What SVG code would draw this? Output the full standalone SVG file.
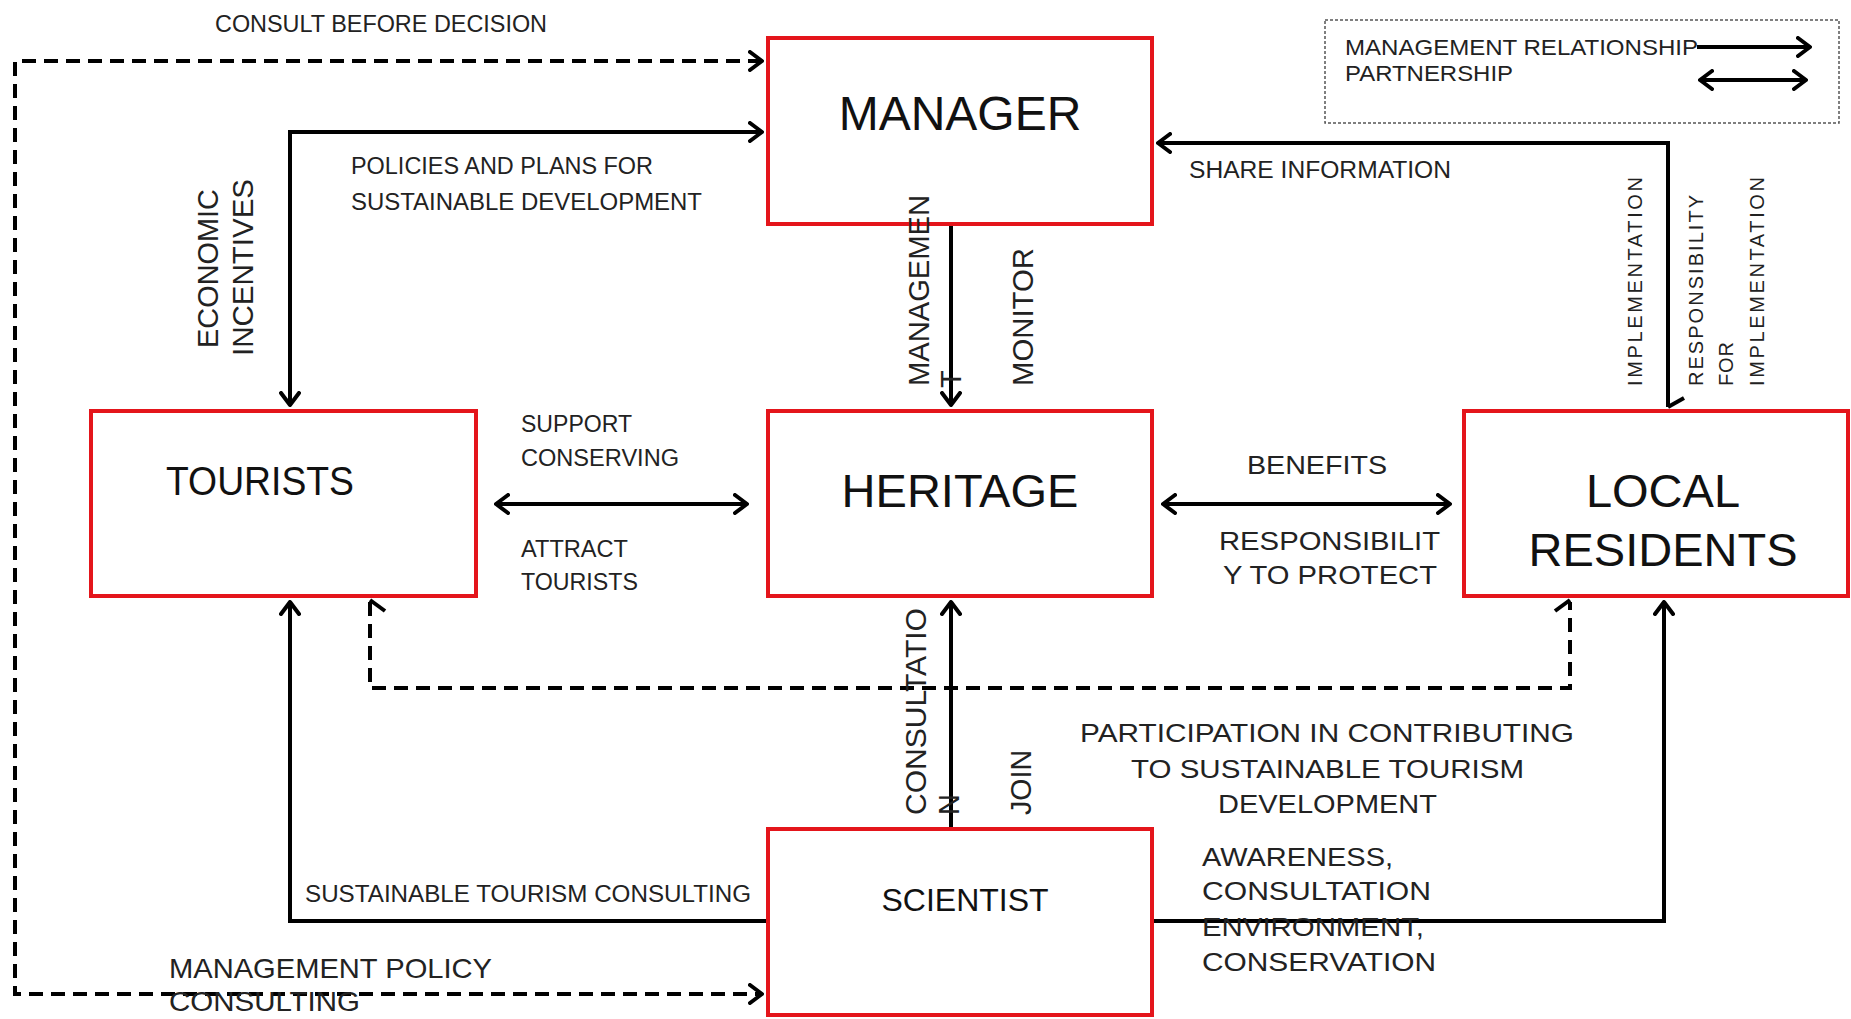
<svg xmlns="http://www.w3.org/2000/svg" width="1851" height="1019" viewBox="0 0 1851 1019">
<defs>
<marker id="ah" viewBox="0 0 16 22" refX="14" refY="11" markerWidth="16" markerHeight="22" orient="auto-start-reverse" markerUnits="userSpaceOnUse">
<path d="M2,2 L14,11 L2,20" fill="none" stroke="#000" stroke-width="4" stroke-linecap="round" stroke-linejoin="round"/>
</marker>
</defs>
<style>
.box{fill:#fff;stroke:#e4151b;stroke-width:4}
.ln{fill:none;stroke:#000;stroke-width:4}
.dash{fill:none;stroke:#000;stroke-width:4;stroke-dasharray:14 8}
.lbl{font-family:"Liberation Sans",Arial,sans-serif;fill:#222}
.nd{font-family:"Liberation Sans",Arial,sans-serif;fill:#111}
.c{font-size:23px}
.a{font-size:26px}
.v{font-size:29px}
.s{font-size:20px}
</style>
<rect width="1851" height="1019" fill="#fff"/>

<g id="connectors">
<path class="dash" d="M762 61 H15 V994 H762" marker-start="url(#ah)" marker-end="url(#ah)"/>
<path class="ln" d="M762 132 H290 V405" marker-start="url(#ah)" marker-end="url(#ah)"/>
<path class="ln" d="M951 224 V405" marker-end="url(#ah)"/>
<path class="ln" d="M1668 407 V143 H1158" marker-end="url(#ah)"/>
<path class="ln" d="M1668 407 L1684 398"/>
<path class="ln" d="M496 504 H747" marker-start="url(#ah)" marker-end="url(#ah)"/>
<path class="ln" d="M1163 504 H1450" marker-start="url(#ah)" marker-end="url(#ah)"/>
<path class="dash" d="M370 602 V688 H1570 V602"/>
<path class="ln" d="M370 600 L385 611"/>
<path class="ln" d="M1570 600 L1555 611"/>
<path class="ln" d="M951 829 V602" marker-end="url(#ah)"/>
<path class="ln" d="M768 921 H290 V602" marker-end="url(#ah)"/>
<path class="ln" d="M1152 921 H1664 V602" marker-end="url(#ah)"/>
</g>

<g id="legend">
<rect x="1325" y="20" width="514" height="103" fill="none" stroke="#555" stroke-width="1.5" stroke-dasharray="3 2"/>
<text class="lbl" x="1345" y="55" font-size="22" textLength="353" lengthAdjust="spacingAndGlyphs">MANAGEMENT RELATIONSHIP</text>
<text class="lbl" x="1345" y="81" font-size="22" textLength="168" lengthAdjust="spacingAndGlyphs">PARTNERSHIP</text>
<path class="ln" d="M1697 47 H1810" marker-end="url(#ah)"/>
<path class="ln" d="M1700 80 H1806" marker-start="url(#ah)" marker-end="url(#ah)"/>
</g>

<g id="manager">
<rect class="box" x="768" y="38" width="384" height="186"/>
<text class="nd" x="960" y="130" font-size="48" text-anchor="middle">MANAGER</text>
</g>
<g id="tourists">
<rect class="box" x="91" y="411" width="385" height="185"/>
<text class="nd" x="166" y="495" font-size="41" textLength="188" lengthAdjust="spacingAndGlyphs">TOURISTS</text>
</g>
<g id="heritage">
<rect class="box" x="768" y="411" width="384" height="185"/>
<text class="nd" x="960" y="507" font-size="47" text-anchor="middle">HERITAGE</text>
</g>
<g id="local-residents">
<rect class="box" x="1464" y="411" width="384" height="185"/>
<text class="nd" x="1663" y="507" font-size="47" text-anchor="middle">LOCAL</text>
<text class="nd" x="1663" y="566" font-size="47" text-anchor="middle">RESIDENTS</text>
</g>
<g id="scientist">
<rect class="box" x="768" y="829" width="384" height="186"/>
<text class="nd" x="965" y="911" font-size="32" text-anchor="middle">SCIENTIST</text>
</g>

<g id="labels">
<text class="lbl c" x="215" y="32" textLength="332" lengthAdjust="spacingAndGlyphs">CONSULT BEFORE DECISION</text>
<text class="lbl c" x="351" y="174" textLength="302" lengthAdjust="spacingAndGlyphs">POLICIES AND PLANS FOR</text>
<text class="lbl c" x="351" y="210" textLength="351" lengthAdjust="spacingAndGlyphs">SUSTAINABLE DEVELOPMENT</text>
<text class="lbl c" x="521" y="432" textLength="111" lengthAdjust="spacingAndGlyphs">SUPPORT</text>
<text class="lbl c" x="521" y="466" textLength="158" lengthAdjust="spacingAndGlyphs">CONSERVING</text>
<text class="lbl c" x="521" y="557" textLength="107" lengthAdjust="spacingAndGlyphs">ATTRACT</text>
<text class="lbl c" x="521" y="590" textLength="117" lengthAdjust="spacingAndGlyphs">TOURISTS</text>
<text class="lbl c" x="305" y="902" textLength="446" lengthAdjust="spacingAndGlyphs">SUSTAINABLE TOURISM CONSULTING</text>
<text class="lbl c" x="1189" y="178" textLength="262" lengthAdjust="spacingAndGlyphs">SHARE INFORMATION</text>
<text class="lbl" x="169" y="978" font-size="28" textLength="323" lengthAdjust="spacingAndGlyphs">MANAGEMENT POLICY</text>
<text class="lbl" x="169" y="1011" font-size="28" textLength="191" lengthAdjust="spacingAndGlyphs">CONSULTING</text>
<text class="lbl a" x="1247" y="474" textLength="140" lengthAdjust="spacingAndGlyphs">BENEFITS</text>
<text class="lbl a" x="1219" y="550" textLength="221" lengthAdjust="spacingAndGlyphs">RESPONSIBILIT</text>
<text class="lbl a" x="1223" y="584" textLength="214" lengthAdjust="spacingAndGlyphs">Y TO PROTECT</text>
<text class="lbl a" x="1080" y="742" textLength="494" lengthAdjust="spacingAndGlyphs">PARTICIPATION IN CONTRIBUTING</text>
<text class="lbl a" x="1131" y="778" textLength="393" lengthAdjust="spacingAndGlyphs">TO SUSTAINABLE TOURISM</text>
<text class="lbl a" x="1218" y="813" textLength="219" lengthAdjust="spacingAndGlyphs">DEVELOPMENT</text>
<text class="lbl a" x="1202" y="866" textLength="191" lengthAdjust="spacingAndGlyphs">AWARENESS,</text>
<text class="lbl a" x="1202" y="900" textLength="229" lengthAdjust="spacingAndGlyphs">CONSULTATION</text>
<text class="lbl a" x="1202" y="936" textLength="222" lengthAdjust="spacingAndGlyphs">ENVIRONMENT,</text>
<text class="lbl a" x="1202" y="971" textLength="234" lengthAdjust="spacingAndGlyphs">CONSERVATION</text>

<text class="lbl v" transform="translate(218 348) rotate(-90)" textLength="159" lengthAdjust="spacingAndGlyphs">ECONOMIC</text>
<text class="lbl v" transform="translate(253 356) rotate(-90)" textLength="177" lengthAdjust="spacingAndGlyphs">INCENTIVES</text>
<text class="lbl v" transform="translate(929 386) rotate(-90)" textLength="191" lengthAdjust="spacingAndGlyphs">MANAGEMEN</text>
<text class="lbl v" transform="translate(961 388) rotate(-90)">T</text>
<text class="lbl v" transform="translate(1033 386) rotate(-90)" textLength="138" lengthAdjust="spacingAndGlyphs">MONITOR</text>
<text class="lbl v" transform="translate(926 815) rotate(-90)" textLength="207" lengthAdjust="spacingAndGlyphs">CONSULTATIO</text>
<text class="lbl v" transform="translate(959 815) rotate(-90)">N</text>
<text class="lbl v" transform="translate(1031 815) rotate(-90)" textLength="65" lengthAdjust="spacingAndGlyphs">JOIN</text>
<text class="lbl s" transform="translate(1642 386) rotate(-90)" textLength="209" lengthAdjust="spacing">IMPLEMENTATION</text>
<text class="lbl s" transform="translate(1703 386) rotate(-90)" textLength="191" lengthAdjust="spacing">RESPONSIBILITY</text>
<text class="lbl s" transform="translate(1733 386) rotate(-90)" textLength="44" lengthAdjust="spacing">FOR</text>
<text class="lbl s" transform="translate(1764 386) rotate(-90)" textLength="209" lengthAdjust="spacing">IMPLEMENTATION</text>
</g>
</svg>
